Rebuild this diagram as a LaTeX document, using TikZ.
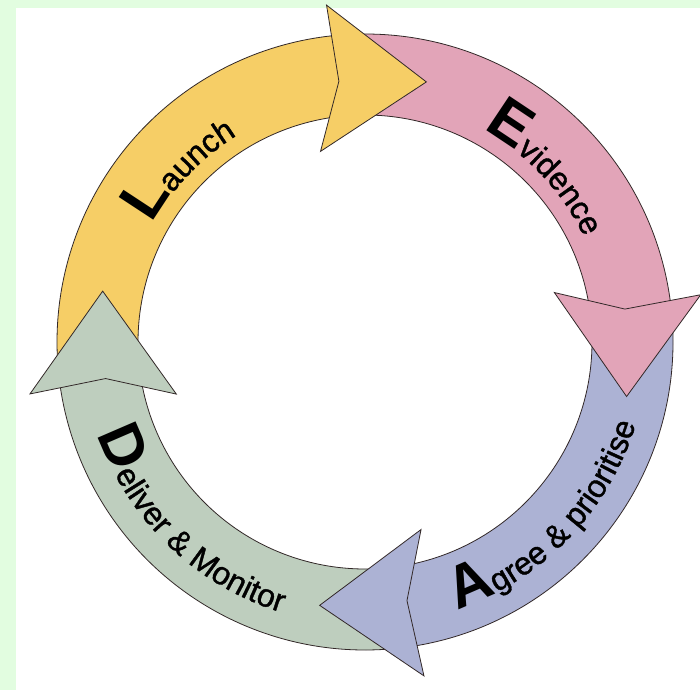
\documentclass[tikz,border=0pt]{standalone}
\usepackage{fontspec}
\setmainfont{Liberation Sans}
\newfontfamily\heavysans[FakeBold=1.2]{Liberation Sans}
\usetikzlibrary{decorations.text}
\definecolor{launchcol}{RGB}{246,206,102}
\definecolor{evidcol}{RGB}{226,164,184}
\definecolor{agreecol}{RGB}{172,178,212}
\definecolor{delivcol}{RGB}{190,206,190}
\definecolor{bgcol}{RGB}{226,253,224}
\definecolor{edgecol}{RGB}{50,40,40}
\newcommand{\capfnt}{\fontsize{60}{60}\selectfont\rmfamily\bfseries}
\newcommand{\txtfnt}{\fontsize{32}{32}\selectfont\heavysans}
\tikzset{band/.style = {draw=edgecol, line width=0.8pt}}

\begin{document}
\begin{tikzpicture}[x=1pt, y=1pt]
    \useasboundingbox (-365, -348) rectangle (335, 342);
    \fill [bgcol] (-365, -348) rectangle (335, 342);
    \fill [white] (-349, -348) rectangle (335, 334);
    % ring segments
    \foreach \from/\to/\col in {183.8/92.5/launchcol, 91.5/4/evidcol, 3/-84/agreecol, -85/-175.2/delivcol}
      \filldraw [band, fill=\col] (\from:308pt) arc [start angle=\from, end angle=\to, radius=308pt]
        -- (\to:227pt) arc [start angle=\to, end angle=\from, radius=227pt] -- cycle;
    % arrow heads
    \foreach \ang/\col in {95.5/launchcol, 7/evidcol, -81/agreecol, 187.8/delivcol}
      \filldraw [band, fill=\col, rotate=\ang] (339, 6) -- (253, -86) -- (194, 26)
        -- (262, 1) -- cycle;
    % labels
    \path [decorate, decoration={text along path, text align=left,
        text={|\capfnt|L|\txtfnt|aunch}}]
      (151:243pt) arc [start angle=151, end angle=90, radius=243pt];
    \path [decorate, decoration={text along path, text align=left,
        text={|\capfnt|E|\txtfnt|vidence}}]
      (61:243pt) arc [start angle=61, end angle=0, radius=243pt];
    \path [decorate, decoration={text along path, text align=left,
        text={|\capfnt|A|\txtfnt|gree {\&} prioritise}}]
      (-71:283pt) arc [start angle=-71, end angle=0, radius=283pt];
    \path [decorate, decoration={text along path, text align=left,
        text={|\capfnt|D|\txtfnt|eliver {\&} Monitor}}]
      (199:283pt) arc [start angle=199, end angle=262, radius=283pt];
  \end{tikzpicture}
\end{document}
